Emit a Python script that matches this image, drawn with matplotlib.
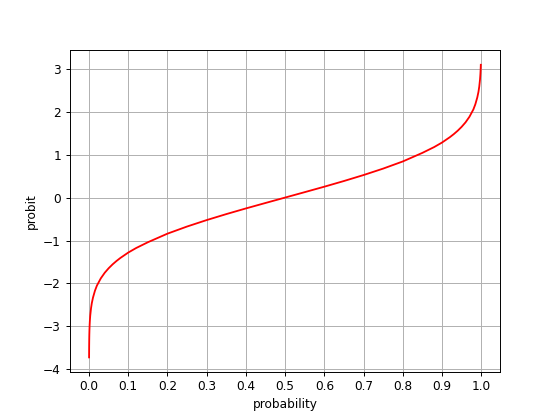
import matplotlib
matplotlib.use('Agg')
import matplotlib.pyplot as plt

# probability values and the probit
prob = [0.0001, 0.0002, 0.0003, 0.0005, 0.0007, 0.001, 0.0015, 0.002, 0.003, 0.005, 0.007,
        0.01, 0.015, 0.02, 0.03, 0.04, 0.05, 0.06, 0.07, 0.08, 0.1, 0.12, 0.15, 0.2,
        0.25, 0.3, 0.35, 0.4, 0.45, 0.5, 0.55, 0.6, 0.65, 0.7, 0.75, 0.8, 0.85,
        0.88, 0.9, 0.92, 0.93, 0.94, 0.95, 0.96, 0.97, 0.98, 0.985, 0.99, 0.993,
        0.995, 0.997, 0.998, 0.9985, 0.999]
probit = [-3.72, -3.54, -3.43, -3.29, -3.19, -3.09, -2.97, -2.88, -2.75, -2.58, -2.46,
          -2.33, -2.17, -2.05, -1.88, -1.75, -1.645, -1.555, -1.476, -1.405, -1.28, -1.175, -1.04, -0.84,
          -0.674, -0.524, -0.385, -0.253, -0.126, 0.0, 0.126, 0.253, 0.385, 0.524, 0.674, 0.84, 1.04,
          1.175, 1.28, 1.405, 1.476, 1.555, 1.645, 1.75, 1.88, 2.05, 2.17, 2.33, 2.46,
          2.58, 2.75, 2.88, 2.97, 3.09]
xticks = [0.0, 0.1, 0.2, 0.3, 0.4, 0.5, 0.6, 0.7, 0.8, 0.9, 1.0]

plt.figure(figsize=(556 / 87, 418 / 87), dpi=87)
plt.plot(prob, probit, 'r-')
plt.xticks(xticks)
plt.xlabel('probability')
plt.ylabel('probit')
plt.grid(True)
plt.savefig('out.png', dpi=87)
